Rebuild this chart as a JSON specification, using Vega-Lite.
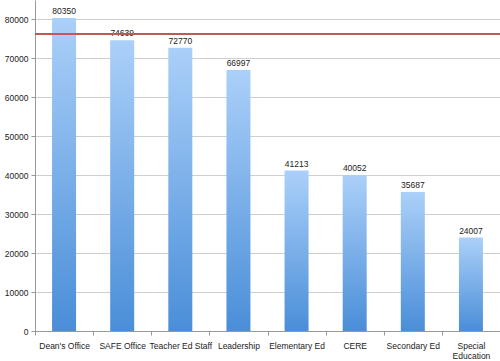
{
  "$schema": "https://vega.github.io/schema/vega-lite/v6.json",
  "width": 465,
  "height": 331,
  "autosize": {"type": "none"},
  "padding": {"left": 35, "top": 0, "right": 0, "bottom": 30},
  "background": "white",
  "config": {
    "font": "Liberation Sans",
    "view": {"stroke": null},
    "axis": {"labelFont": "Liberation Sans", "labelFontSize": 8.5, "labelColor": "#222"}
  },
  "data": {
    "values": [
      {"dept": "Dean's Office", "cost": 80350},
      {"dept": "SAFE Office", "cost": 74639},
      {"dept": "Teacher Ed Staff", "cost": 72770},
      {"dept": "Leadership", "cost": 66997},
      {"dept": "Elementary Ed", "cost": 41213},
      {"dept": "CERE", "cost": 40052},
      {"dept": "Secondary Ed", "cost": 35687},
      {"dept": "Special Education", "cost": 24007}
    ]
  },
  "layer": [
    {
      "mark": {
        "type": "bar",
        "size": 24,
        "color": {
          "gradient": "linear",
          "x1": 0, "y1": 0, "x2": 0, "y2": 1,
          "stops": [
            {"offset": 0, "color": "#abd0f9"},
            {"offset": 1, "color": "#4a8ed8"}
          ]
        }
      },
      "encoding": {
        "x": {
          "field": "dept", "type": "nominal", "sort": null,
          "scale": {"paddingInner": 0, "paddingOuter": 0},
          "axis": {
            "title": null, "labelAngle": 0, "tickBand": "extent",
            "domainColor": "#999", "tickColor": "#999", "tickSize": 4,
            "labelPadding": 6,
            "labelExpr": "datum.label == 'Special Education' ? ['Special', 'Education'] : datum.label"
          }
        },
        "y": {
          "field": "cost", "type": "quantitative",
          "scale": {"domain": [0, 85000], "nice": false},
          "axis": {
            "title": null, "values": [0, 10000, 20000, 30000, 40000, 50000, 60000, 70000, 80000],
            "format": "d", "gridColor": "#cfcfcf", "domainColor": "#999",
            "tickColor": "#999", "tickSize": 4, "labelPadding": 3
          }
        }
      }
    },
    {
      "mark": {"type": "text", "dy": -7, "fontSize": 8.5, "color": "#222"},
      "encoding": {
        "x": {"field": "dept", "type": "nominal", "sort": null},
        "y": {"field": "cost", "type": "quantitative"},
        "text": {"field": "cost", "type": "quantitative", "format": "d"}
      }
    },
    {
      "mark": {"type": "rule", "color": "#bd5a57", "strokeWidth": 2},
      "encoding": {"y": {"datum": 76300}}
    }
  ]
}
